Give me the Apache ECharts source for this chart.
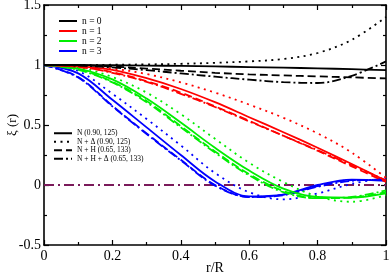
<!DOCTYPE html>
<html><head><meta charset="utf-8">
<script src="https://cdn.jsdelivr.net/npm/echarts@6/dist/echarts.min.js"></script>
<style>html,body{margin:0;padding:0;background:#fff}#c{width:390px;height:273px}</style>
</head><body><div id="c"></div>
<script>
// r/R sample points
const r = [0, 0.1, 0.2, 0.3, 0.4, 0.5, 0.6, 0.7, 0.8, 0.9, 1.0];
// n = 0
const n0_N   = [1, 1.0, 0.998, 0.995, 0.992, 0.988, 0.983, 0.978, 0.972, 0.965, 0.957];
const n0_ND  = [1, 1.0, 1.002, 1.005, 1.01, 1.018, 1.03, 1.05, 1.10, 1.21, 1.40];
const n0_NH  = [1, 0.997, 0.987, 0.97, 0.952, 0.935, 0.922, 0.913, 0.905, 0.897, 0.888];
const n0_NHD = [1, 0.995, 0.98, 0.957, 0.93, 0.903, 0.878, 0.857, 0.85, 0.91, 1.03];
// n = 1
const n1_N   = [1, 0.99, 0.96, 0.89, 0.80, 0.69, 0.565, 0.44, 0.31, 0.175, 0.035];
const n1_ND  = [1, 0.995, 0.97, 0.925, 0.855, 0.77, 0.67, 0.56, 0.43, 0.27, 0.06];
const n1_NH  = [1, 0.985, 0.94, 0.865, 0.77, 0.655, 0.535, 0.41, 0.285, 0.155, 0.025];
const n1_NHD = [1, 0.985, 0.935, 0.86, 0.76, 0.65, 0.53, 0.41, 0.29, 0.165, 0.04];
// n = 2
const n2_N   = [1, 0.97, 0.88, 0.72, 0.52, 0.31, 0.12, -0.03, -0.10, -0.105, -0.07];
const n2_ND  = [1, 0.98, 0.90, 0.77, 0.59, 0.385, 0.185, 0.025, -0.095, -0.14, -0.085];
const n2_NH  = [1, 0.965, 0.86, 0.70, 0.49, 0.28, 0.09, -0.05, -0.11, -0.105, -0.06];
const n2_NHD = [1, 0.96, 0.855, 0.69, 0.48, 0.27, 0.08, -0.06, -0.11, -0.10, -0.045];
// n = 3
const n3_N   = [1, 0.93, 0.71, 0.48, 0.25, 0.03, -0.095, -0.08, 0.0, 0.045, 0.035];
const n3_ND  = [1, 0.95, 0.76, 0.55, 0.33, 0.10, -0.06, -0.12, -0.07, 0.01, 0.06];
const n3_NH  = [1, 0.90, 0.66, 0.43, 0.21, 0.0, -0.10, -0.08, -0.01, 0.04, 0.04];
const n3_NHD = [1, 0.895, 0.655, 0.425, 0.205, -0.005, -0.10, -0.085, -0.015, 0.035, 0.045];
// zero reference line
const zeroX = [0, 1];
const zeroY = [0, 0];

const nLabels = ['n = 0', 'n = 1', 'n = 2', 'n = 3'];
const modelLabels = ['N (0.90, 125)', 'N + \u0394 (0.90, 125)', 'N + H (0.65, 133)', 'N + H + \u0394 (0.65, 133)'];
const xTicks = [0, 0.2, 0.4, 0.6, 0.8, 1];
const yTicks = [-0.5, 0, 0.5, 1, 1.5];

const colors = ['#000000', '#ff0000', '#00ee00', '#0000ff'];
const styles = ['solid', [2, 4.5], [8, 4], [9, 3, 2, 3]];
const data = [
  [n0_N, n0_ND, n0_NH, n0_NHD],
  [n1_N, n1_ND, n1_NH, n1_NHD],
  [n2_N, n2_ND, n2_NH, n2_NHD],
  [n3_N, n3_ND, n3_NH, n3_NHD]
];
const pair = (xs, ys) => xs.map((x, i) => [x, ys[i]]);
const FONT = 'Liberation Serif';

const series = [];
series.push({
  name: 'zero', type: 'line', data: pair(zeroX, zeroY), symbol: 'none',
  lineStyle: { color: '#7a1a5a', width: 1.8, type: [10, 4, 2, 4] }, silent: true, z: 1
});
for (let n = 3; n >= 0; n--) {
  for (let m = 0; m < 4; m++) {
    series.push({
      name: m === 0 ? nLabels[n] : ('n' + n + '_' + m),
      type: 'line', data: pair(r, data[n][m]), symbol: 'none', smooth: 0.35,
      color: colors[n],
      lineStyle: { color: colors[n], width: 1.8, type: styles[m] }, z: 3
    });
  }
}
for (let m = 0; m < 4; m++) {
  series.push({
    name: modelLabels[m], type: 'line', data: [], symbol: 'none', color: '#000',
    lineStyle: { color: '#000', width: 1.8, type: styles[m] }
  });
}

const axisCommon = {
  type: 'value', splitLine: { show: false },
  axisLine: { show: true, onZero: false, lineStyle: { color: '#000', width: 1.6 } },
  axisTick: { show: true, inside: true, length: 5, lineStyle: { color: '#000', width: 1.2 } },
  minorTick: { show: true, splitNumber: 2, length: 3, lineStyle: { color: '#000', width: 1.2 } },
  minorSplitLine: { show: false }
};
const labelStyle = { color: '#000', fontFamily: FONT, fontSize: 14 };

const option = {
  animation: false,
  backgroundColor: '#fff',
  grid: { left: 44, right: 4, top: 5, bottom: 28, containLabel: false, outerBoundsMode: 'none' },
  xAxis: [
    Object.assign({}, axisCommon, { min: xTicks[0], max: xTicks[xTicks.length - 1], interval: 0.2, position: 'bottom',
      axisLabel: Object.assign({ margin: 4 }, labelStyle),
      name: 'r/R', nameLocation: 'middle', nameGap: 16, nameMoveOverlap: false, nameTextStyle: labelStyle }),
    Object.assign({}, axisCommon, { min: 0, max: 1, interval: 0.2, position: 'top', axisLabel: { show: false } })
  ],
  yAxis: [
    Object.assign({}, axisCommon, { min: yTicks[0], max: yTicks[yTicks.length - 1], interval: 0.5, position: 'left',
      axisLabel: Object.assign({ margin: 3 }, labelStyle),
      name: '\u03be (r)', nameLocation: 'middle', nameGap: 25, nameRotate: 90, nameMoveOverlap: false,
      nameTextStyle: { color: '#000', fontFamily: FONT, fontSize: 13 } }),
    Object.assign({}, axisCommon, { min: -0.5, max: 1.5, interval: 0.5, position: 'right', axisLabel: { show: false } })
  ],
  legend: [
    { data: nLabels, orient: 'vertical', left: 58, top: 16, padding: 0, itemWidth: 18, itemHeight: 8.8, itemGap: 0,
      selectedMode: false, itemStyle: { opacity: 0 },
      textStyle: { fontFamily: FONT, fontSize: 9.5, color: '#000', lineHeight: 8.8 } },
    { data: modelLabels, orient: 'vertical', left: 53, top: 129, padding: 0, itemWidth: 18, itemHeight: 8.5, itemGap: 0,
      selectedMode: false, itemStyle: { opacity: 0 },
      textStyle: { fontFamily: FONT, fontSize: 7.5, color: '#000', lineHeight: 8.5 } }
  ],
  series: series
};
const chart = echarts.init(document.getElementById('c'));
chart.setOption(option);
</script>
</body></html>
